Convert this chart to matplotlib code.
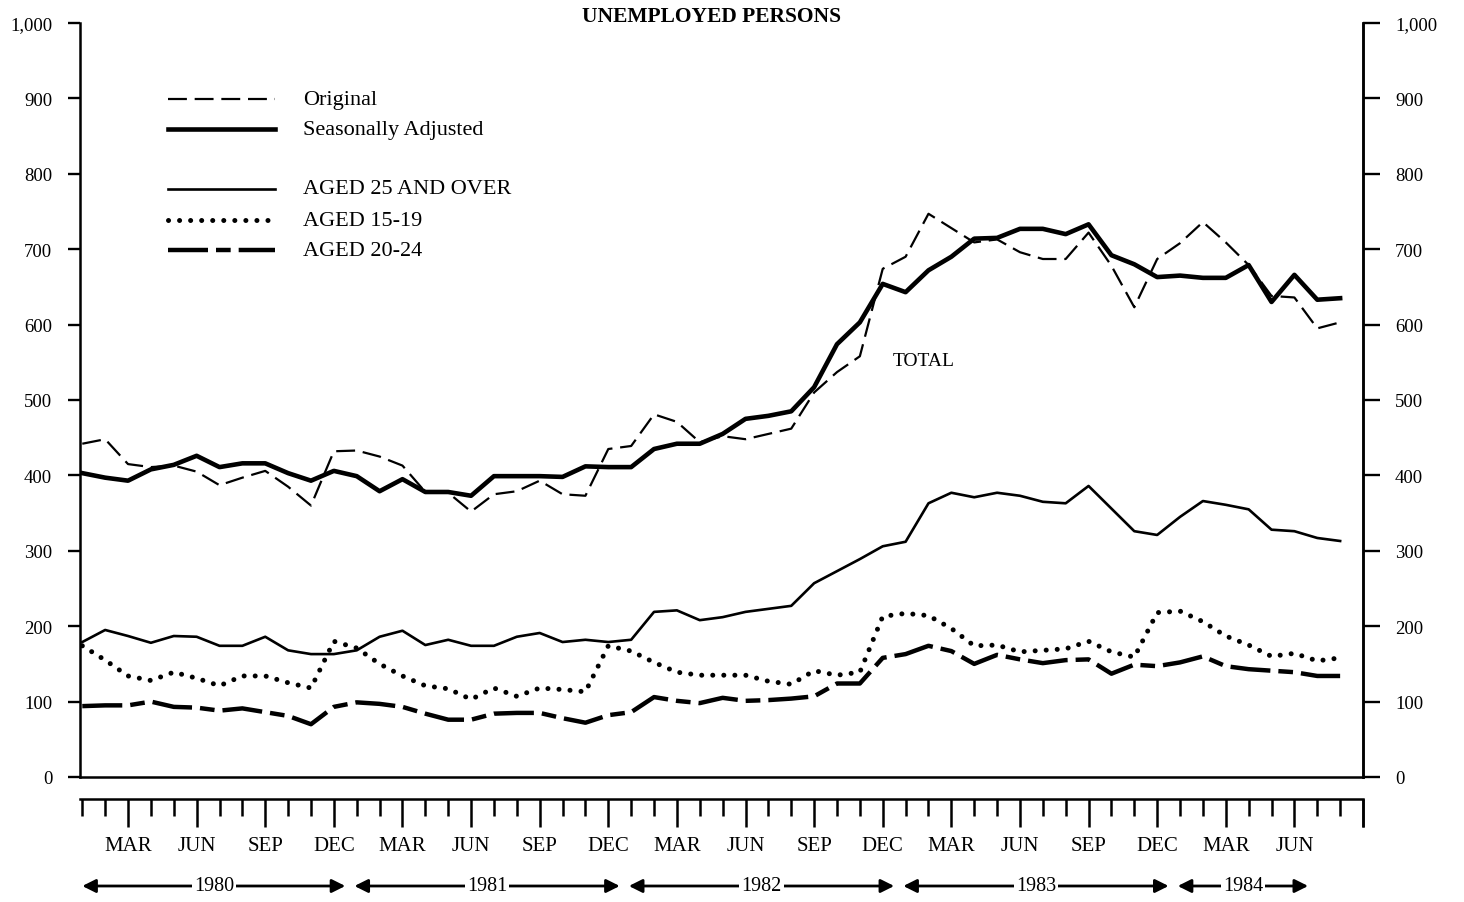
import matplotlib
matplotlib.use("Agg")
import matplotlib.pyplot as plt
from matplotlib.lines import Line2D
import numpy as np

# ---------------- data (thousands, monthly Jan 1980 - Aug 1984) ----------------
original = [442, 448, 415, 411, 413, 405, 387, 397, 406, 385, 360, 432,
            433, 425, 413, 378, 377, 352, 375, 379, 393, 375, 373, 435,
            439, 481, 471, 444, 452, 448, 455, 462, 510, 537, 558, 674,
            690, 747, 728, 709, 713, 696, 687, 687, 722, 678, 623, 687,
            708, 736, 709, 679, 638, 636, 595, 603]
seasonally_adjusted = [403, 397, 393, 408, 414, 426, 411, 416, 416, 403, 393, 406,
                       399, 379, 395, 378, 378, 373, 399, 399, 399, 398, 412, 411,
                       411, 435, 442, 442, 455, 475, 479, 485, 517, 574, 603, 654,
                       643, 672, 690, 714, 715, 727, 727, 720, 733, 692, 680, 663,
                       665, 662, 662, 679, 630, 666, 633, 635]
aged_25_over = [179, 195, 187, 178, 187, 186, 174, 174, 186, 168, 163, 163,
                168, 186, 194, 175, 182, 174, 174, 186, 191, 179, 182, 179,
                182, 219, 221, 208, 212, 219, 223, 227, 257, 273, 289, 306,
                312, 363, 377, 371, 377, 373, 365, 363, 386, 356, 326, 321,
                345, 366, 361, 355, 328, 326, 317, 313]
aged_15_19 = [174, 155, 134, 128, 139, 131, 121, 134, 134, 125, 118, 180,
              171, 150, 134, 121, 117, 103, 118, 107, 118, 116, 113, 174,
              167, 152, 139, 135, 135, 135, 127, 123, 141, 135, 139, 213,
              217, 214, 197, 174, 175, 166, 168, 170, 180, 166, 159, 218,
              220, 206, 187, 175, 160, 164, 154, 158]
aged_20_24 = [94, 95, 95, 100, 93, 92, 88, 91, 86, 81, 70, 93,
              99, 97, 93, 84, 76, 76, 84, 85, 85, 78, 72, 82,
              86, 106, 101, 98, 105, 101, 102, 104, 107, 124, 124, 158,
              163, 174, 167, 150, 162, 156, 151, 155, 156, 137, 149, 147,
              152, 160, 147, 143, 141, 139, 134, 134]

months = np.arange(len(original))          # 0 = Jan 1980
month_labels = ["MAR", "JUN", "SEP", "DEC"]
years = ["1980", "1981", "1982", "1983", "1984"]
ytick_values = [0, 100, 200, 300, 400, 500, 600, 700, 800, 900, 1000]
ytick_labels = ["0", "100", "200", "300", "400", "500", "600", "700", "800", "900", "1,000"]

# ---------------- styles ----------------
SERIF = ["Liberation Serif", "DejaVu Serif"]
plt.rcParams["font.family"] = SERIF
styles = {
    "orig": dict(color="black", lw=1.6, ls=(0, (8.5, 3.5)), dash_capstyle="butt"),
    "sa": dict(color="black", lw=3.3, ls="-", solid_joinstyle="round"),
    "a25": dict(color="black", lw=1.9, ls="-", solid_joinstyle="round"),
    "a15": dict(color="black", lw=3.6, ls=(0, (0.01, 2.2)), dash_capstyle="round"),
    "a2024": dict(color="black", lw=3.2, ls=(0, (9, 1.8, 3.3, 1.8)), dash_capstyle="butt"),
}

W, H = 1464, 903
fig = plt.figure(figsize=(W / 100, H / 100), dpi=100)
fig.patch.set_facecolor("white")

def fx(px):
    return px / W

def fy(py):
    return 1 - py / H

# ---------------- main axes ----------------
ax = fig.add_axes([fx(80), fy(778), fx(1363) - fx(80), fy(24) - fy(778)])
ax.set_xlim(-0.1, 56.0)
ax.set_ylim(0, 1000)

ax.plot(months, original, **styles["orig"])
ax.plot(months, seasonally_adjusted, **styles["sa"])
ax.plot(months, aged_25_over, **styles["a25"])
ax.plot(months, aged_15_19, **styles["a15"])
ax.plot(months, aged_20_24, **styles["a2024"])

ax.text(36.8, 552, "TOTAL", ha="center", va="center", fontsize=14, family=SERIF)

for s in ["left", "right", "bottom"]:
    ax.spines[s].set_linewidth(1.8)
ax.spines["top"].set_visible(False)
ax.set_xticks([])
ax.set_yticks(ytick_values)
ax.set_yticklabels(ytick_labels)
ax.tick_params(axis="y", direction="out", length=9, width=1.7, pad=11, labelsize=13.5)

axr = ax.twinx()
axr.set_ylim(0, 1000)
axr.set_yticks(ytick_values)
axr.set_yticklabels(ytick_labels)
axr.tick_params(axis="y", direction="out", length=12, width=1.7, pad=11, labelsize=13.5)
for s in ["left", "top", "bottom"]:
    axr.spines[s].set_visible(False)
axr.spines["right"].set_linewidth(1.8)

# ---------------- title ----------------
fig.text(fx(711), fy(17), "UNEMPLOYED PERSONS", ha="center", va="center",
         fontsize=15.5, fontweight="bold", family=SERIF)

# ---------------- legend (manual) ----------------
legend_rows = [
    ("Original", "orig", 100),
    ("Seasonally Adjusted", "sa", 130),
    ("AGED 25 AND OVER", "a25", 190),
    ("AGED 15-19", "a15", 221),
    ("AGED 20-24", "a2024", 251),
]
for label, key, py in legend_rows:
    fig.add_artist(Line2D([fx(168), fx(275)], [fy(py), fy(py)],
                          transform=fig.transFigure, **styles[key]))
    fig.text(fx(303), fy(py), label, ha="left", va="center",
             fontsize=16, family=SERIF)

# ---------------- month strip ----------------
ax2 = fig.add_axes([fx(80), 0.0, fx(1363) - fx(80), fy(800)])
ax2.set_xlim(ax.get_xlim())
ax2.set_ylim(0, 1)
for s in ["left", "right", "bottom"]:
    ax2.spines[s].set_visible(False)
ax2.spines["top"].set_linewidth(1.8)
ax2.patch.set_alpha(0)
all_ticks = np.arange(0, 57)
long_ticks = [m for m in all_ticks if m % 3 == 2] + [56]
short_ticks = [m for m in all_ticks if m not in long_ticks]
ax2.xaxis.set_ticks_position("top")
ax2.set_xticks(long_ticks)
ax2.set_xticks(short_ticks, minor=True)
ax2.tick_params(axis="x", which="major", direction="in", length=20, width=1.8,
                labeltop=False, labelbottom=False)
ax2.tick_params(axis="x", which="minor", direction="in", length=12, width=1.8)
ax2.set_yticks([])

trans = ax2.get_xaxis_transform()
strip_h = H - 800
label_y = (H - 847) / strip_h
arrow_y = (H - 887) / strip_h
for m in range(2, 54, 3):
    ax2.text(m, label_y, month_labels[(m // 3) % 4], transform=trans,
             ha="center", va="center", fontsize=15, family=SERIF)

for k, yr in enumerate(years):
    start = 12 * k - 0.1 if k > 0 else 0.0
    end = 12 * k + 11.5 if k < len(years) - 1 else 53.6
    ax2.annotate("", xy=(end, arrow_y), xytext=(start, arrow_y),
                 xycoords=trans, textcoords=trans,
                 arrowprops=dict(arrowstyle="<|-|>", color="black", lw=2.0,
                                 mutation_scale=20, shrinkA=0, shrinkB=0))
    ax2.text((start + end) / 2, arrow_y, yr, transform=trans, ha="center", va="center",
             fontsize=14.5, family=SERIF,
             bbox=dict(boxstyle="square,pad=0.1", fc="white", ec="none"))

fig.savefig("out.png", dpi=100, facecolor="white")
